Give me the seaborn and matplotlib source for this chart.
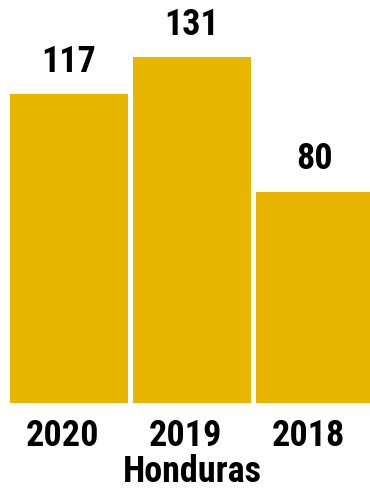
import matplotlib
matplotlib.use("Agg")
import matplotlib.pyplot as plt
from matplotlib import font_manager
from matplotlib.transforms import ScaledTranslation
import seaborn as sns
import pandas as pd

years = ["2020", "2019", "2018"]
values = [117, 131, 80]
group_label = "Honduras"
bar_color = "#E8B500"

sns.set_theme(style="white")


def pick_bold_narrow_font():
    """Prefer a bold condensed face; fall back to bold Roboto."""
    cands = []
    for f in font_manager.fontManager.ttflist:
        path = f.fname.lower()
        if ("condensed" in path or "narrow" in path or f.stretch in ("condensed", "semi-condensed")) \
                and (f.weight in ("bold", 700) or "bold" in path) and "italic" not in path and "oblique" not in path:
            rank = 0 if "roboto" in path else (1 if "liberation" in path else 2)
            cands.append((rank, f.fname))
    if cands:
        cands.sort()
        return font_manager.FontProperties(fname=cands[0][1])
    return font_manager.FontProperties(family=["Roboto", "DejaVu Sans"], weight="bold")


fp = pick_bold_narrow_font()
condensed = fp.get_file() is not None
size = 26 if condensed else 25

df = pd.DataFrame({"year": years, "value": values})

W, H = 370, 491
fig = plt.figure(figsize=(W / 100, H / 100), dpi=100)
ax = fig.add_axes([10 / W, (H - 403) / H, 1 - 10 / W, 403 / H])

sns.barplot(data=df, x="year", y="value", color=bar_color, saturation=1,
            width=0.96, ax=ax, order=years)
for p in ax.patches:
    p.set_edgecolor("none")

ax.set_xlim(-0.48, 2.447)
ax.set_ylim(0, 152.7)

for i, v in enumerate(values):
    t = ax.annotate(str(v), (i, v), xytext=(0, 16.3), textcoords="offset points",
                    ha="center", va="baseline", color="black")
    t.set_fontproperties(fp)
    t.set_fontsize(size)

ax.set_xticks(range(len(years)), years)
ax.tick_params(axis="x", length=0, pad=11)
for lbl in ax.get_xticklabels():
    lbl.set_fontproperties(fp)
    lbl.set_fontsize(size)
    lbl.set_color("black")
    lbl.set_transform(lbl.get_transform() + ScaledTranslation(-7 / 100, 0, fig.dpi_scale_trans))
ax.set_yticks([])
ax.set_xlabel("")
ax.set_ylabel("")
sns.despine(ax=ax, left=True, bottom=True, top=True, right=True)

xl = fig.text(192 / W, (H - 482) / H, group_label, ha="center", va="baseline", color="black")
xl.set_fontproperties(fp)
xl.set_fontsize(size)

fig.savefig("out.png", dpi=100)
